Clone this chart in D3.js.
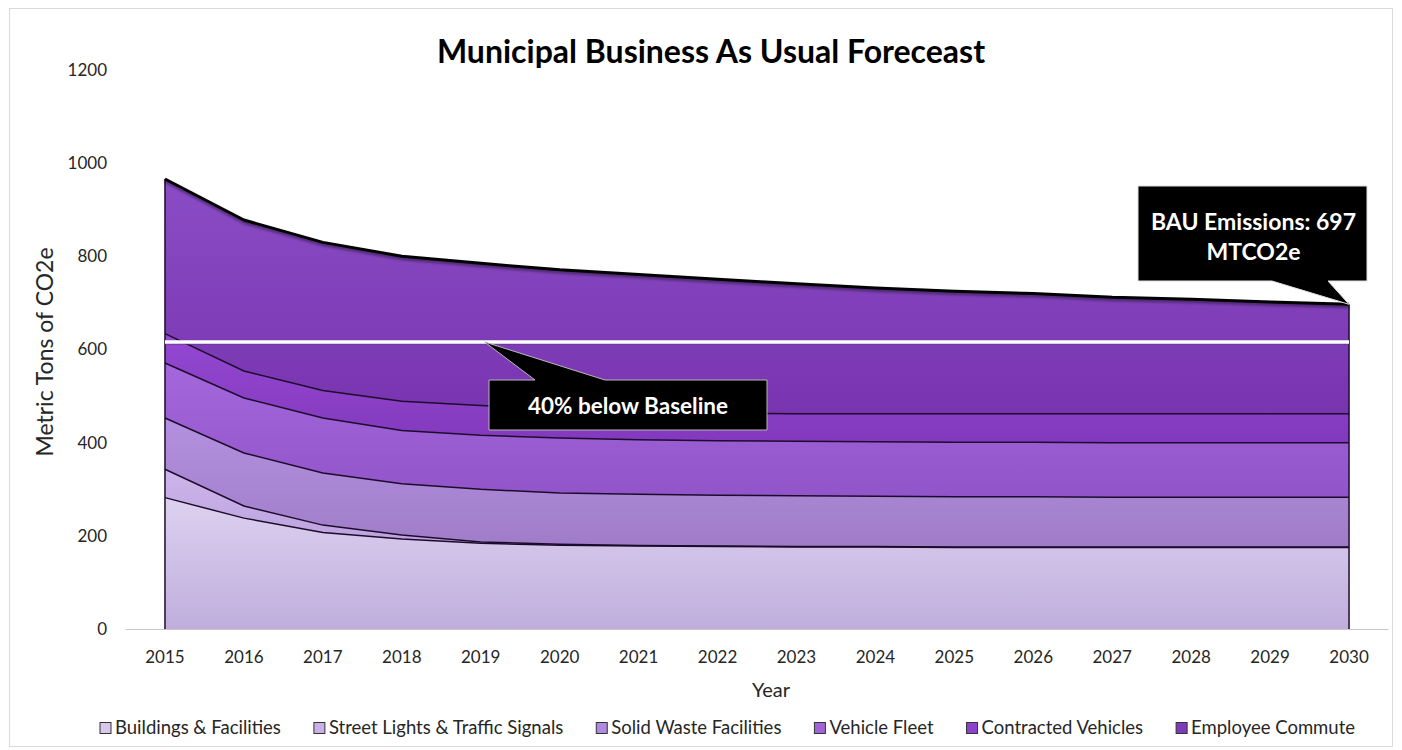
<!DOCTYPE html>
<html>
<head>
<meta charset="utf-8">
<script src="https://cdn.jsdelivr.net/npm/d3@7/dist/d3.min.js"></script>
<style>
  html, body { margin: 0; padding: 0; background: #fff; }
  svg { display: block; font-family: Lato, "Open Sans", sans-serif; }
</style>
</head>
<body>
<svg id="chart" width="1402" height="750"></svg>
<script>
// Municipal emissions forecast, metric tons CO2e per sector
const years = ["2015","2016","2017","2018","2019","2020","2021","2022","2023","2024","2025","2026","2027","2028","2029","2030"];
const buildings          = [282, 238, 207, 193, 184, 180, 178, 177, 176, 176, 175, 175, 175, 175, 175, 175];
const streetLights       = [ 61,  26,  16,   9,   3,   2,   1,   1,   1,   1,   1,   1,   1,   1,   1,   1];
const solidWaste         = [110, 114, 112, 110, 113, 110, 110, 109, 109, 108, 108, 108, 107, 107, 107, 107];
const vehicleFleet       = [118, 118, 118, 114, 116, 118, 117, 117, 117, 117, 117, 117, 117, 117, 117, 117];
const contractedVehicles = [ 63,  58,  59,  63,  64,  61,  60,  59,  59,  60,  61,  61,  62,  62,  62,  62];
const employeeCommute    = [332, 324, 318, 311, 305, 300, 295, 288, 279, 270, 263, 258, 250, 246, 240, 235];

const seriesNames = ["Buildings & Facilities", "Street Lights & Traffic Signals", "Solid Waste Facilities",
                     "Vehicle Fleet", "Contracted Vehicles", "Employee Commute"];
const seriesValues = [buildings, streetLights, solidWaste, vehicleFleet, contractedVehicles, employeeCommute];

const yTicks = [0, 200, 400, 600, 800, 1000, 1200];
const targetValue = 616;          // 40% below baseline
const targetLabel = "40% below Baseline";
const bauLabelLines = ["BAU Emissions: 697", "MTCO2e"];

// band colours: [top of band, bottom of band]
const bandColors = [
  ["#ddd1f0", "#bfaedc"],
  ["#cdb6ea", "#bca0de"],
  ["#b491e0", "#a07cc8"],
  ["#a467dc", "#9155c9"],
  ["#9448d2", "#8339bd"],
  ["#8a4dc6", "#7934b0"]
];
const legendSwatch = ["#d8c8ee", "#c9b0e8", "#b08ade", "#a064d8", "#8c42cc", "#7e3ab8"];

const svg = d3.select("#chart");
const W = 1402, H = 750;

// outer frame
svg.append("rect").attr("x", 9.5).attr("y", 8.5).attr("width", W - 19).attr("height", H - 12)
  .attr("fill", "#fff").attr("stroke", "#d9d9d9");

const x = d3.scalePoint().domain(years).range([125.5, 1388.5]).padding(0.5);
const y = d3.scaleLinear().domain([0, 1200]).range([629, 70]);

const rows = years.map((yr, i) => {
  const r = { year: yr };
  seriesNames.forEach((n, k) => r[n] = seriesValues[k][i]);
  return r;
});
const stacked = d3.stack().keys(seriesNames)(rows);

const defs = svg.append("defs");
bandColors.forEach((c, i) => {
  const g = defs.append("linearGradient").attr("id", "band" + i)
    .attr("x1", 0).attr("y1", 0).attr("x2", 0).attr("y2", 1);
  g.append("stop").attr("offset", "0%").attr("stop-color", c[0]);
  g.append("stop").attr("offset", "100%").attr("stop-color", c[1]);
});
const shadow = defs.append("filter").attr("id", "soft").attr("x", "-5%").attr("y", "-20%")
  .attr("width", "110%").attr("height", "160%");
shadow.append("feGaussianBlur").attr("in", "SourceAlpha").attr("stdDeviation", 1.5).attr("result", "b");
shadow.append("feOffset").attr("in", "b").attr("dy", 1.5).attr("result", "o");
shadow.append("feComponentTransfer").attr("in", "o").attr("result", "s")
  .append("feFuncA").attr("type", "linear").attr("slope", 0.5);
const m = shadow.append("feMerge");
m.append("feMergeNode").attr("in", "s");
m.append("feMergeNode").attr("in", "SourceGraphic");

// x axis baseline
svg.append("line").attr("x1", 125.5).attr("x2", 1388.5).attr("y1", y(0) + 0.5).attr("y2", y(0) + 0.5)
  .attr("stroke", "#c8c8c8").attr("stroke-width", 1);

// stacked bands
const area = d3.area().x(d => x(d.data.year)).y0(d => y(d[0])).y1(d => y(d[1]));
svg.append("g").selectAll("path").data(stacked).join("path")
  .attr("d", area).attr("fill", (d, i) => `url(#band${i})`);

// boundary lines between bands
const topLine = d3.line().x(d => x(d.data.year)).y(d => y(d[1]));
svg.append("g").selectAll("path").data(stacked.slice(0, 5)).join("path")
  .attr("d", topLine).attr("fill", "none").attr("stroke", "#1c0c2c").attr("stroke-width", 1.5);

// side edges of the stack
const last = stacked[stacked.length - 1];
[0, years.length - 1].forEach(i => {
  svg.append("line").attr("x1", x(years[i])).attr("x2", x(years[i]))
    .attr("y1", y(0)).attr("y2", y(last[i][1]))
    .attr("stroke", "#1c0c2c").attr("stroke-width", 1.5);
});

// total emissions outline
svg.append("path").datum(last).attr("d", topLine).attr("fill", "none")
  .attr("stroke", "#000").attr("stroke-width", 3).attr("stroke-linejoin", "round")
  .attr("filter", "url(#soft)");

// 40% below baseline target line
svg.append("line").attr("x1", x(years[0])).attr("x2", x(years[years.length - 1]))
  .attr("y1", y(targetValue) + 1.5).attr("y2", y(targetValue) + 1.5)
  .attr("stroke", "#5a3a7a").attr("stroke-opacity", 0.5).attr("stroke-width", 3);
svg.append("line").attr("x1", x(years[0])).attr("x2", x(years[years.length - 1]))
  .attr("y1", y(targetValue)).attr("y2", y(targetValue))
  .attr("stroke", "#ffffff").attr("stroke-width", 3.5);

// y tick labels
svg.append("g").selectAll("text").data(yTicks).join("text")
  .attr("x", 107).attr("y", d => y(d)).attr("dy", "0.35em").attr("text-anchor", "end")
  .attr("font-size", 17).attr("fill", "#262626").text(d => d);

// x tick labels
svg.append("g").selectAll("text").data(years).join("text")
  .attr("x", d => x(d)).attr("y", 657).attr("dy", "0.35em").attr("text-anchor", "middle")
  .attr("font-size", 17).attr("fill", "#262626").text(d => d);

// axis titles
svg.append("text").attr("x", 771).attr("y", 690).attr("dy", "0.35em").attr("text-anchor", "middle")
  .attr("font-size", 20).attr("fill", "#262626").text("Year");
svg.append("text").attr("transform", "translate(45,352) rotate(-90)").attr("dy", "0.35em")
  .attr("text-anchor", "middle").attr("font-size", 23).attr("fill", "#262626").text("Metric Tons of CO2e");

// title
svg.append("text").attr("x", 711).attr("y", 52).attr("dy", "0.35em").attr("text-anchor", "middle")
  .attr("font-size", 32).attr("font-weight", 700).attr("fill", "#000")
  .text("Municipal Business As Usual Foreceast");

// callout: target line
{
  const tx = x("2019") + 4, ty = y(targetValue);
  const L = 489, T = 380, R = 767, B = 430;
  svg.append("path")
    .attr("d", `M${L},${T} L535,${T} L${tx},${ty} L605,${T} L${R},${T} L${R},${B} L${L},${B} Z`)
    .attr("fill", "#000").attr("stroke", "#b8b8b8").attr("stroke-width", 1);
  svg.append("text").attr("x", (L + R) / 2).attr("y", (T + B) / 2 + 1).attr("dy", "0.35em")
    .attr("text-anchor", "middle").attr("font-size", 22.5).attr("font-weight", 700).attr("fill", "#fff")
    .text(targetLabel);
}

// callout: 2030 business-as-usual total
{
  const i = years.length - 1;
  const tx = x(years[i]), ty = y(last[i][1]);
  const L = 1138, T = 186, R = 1367, B = 281;
  svg.append("path")
    .attr("d", `M${L},${T} L${R},${T} L${R},${B} L1328,${B} L${tx},${ty} L1272,${B} L${L},${B} Z`)
    .attr("fill", "#000").attr("stroke", "#e0e0e0").attr("stroke-width", 1);
  svg.append("g").selectAll("text").data(bauLabelLines).join("text")
    .attr("x", (L + R) / 2 + 1).attr("y", (d, k) => 222 + k * 30).attr("dy", "0.35em")
    .attr("text-anchor", "middle").attr("font-size", 23).attr("font-weight", 700).attr("fill", "#fff")
    .text(d => d);
}

// legend
{
  const lg = svg.append("g");
  const items = lg.selectAll("g").data(seriesNames).join("g");
  items.append("rect").attr("width", 11).attr("height", 11).attr("y", -5.5)
    .attr("fill", (d, i) => legendSwatch[i]).attr("stroke", "#333").attr("stroke-width", 1);
  items.append("text").attr("x", 15).attr("dy", "0.35em").attr("font-size", 18.5)
    .attr("fill", "#262626").text(d => d);
  const widths = [];
  items.each(function () { widths.push(15 + this.querySelector("text").getComputedTextLength()); });
  const span = [100, 1355];
  const gap = (span[1] - span[0] - d3.sum(widths)) / (widths.length - 1);
  let cx = span[0];
  items.attr("transform", (d, i) => { const t = `translate(${cx},728)`; cx += widths[i] + gap; return t; });
}
</script>
</body>
</html>
